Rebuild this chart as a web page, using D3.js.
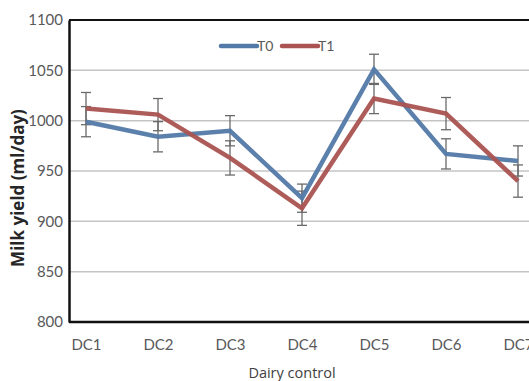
<!DOCTYPE html>
<html><head><meta charset="utf-8">
<script src="https://cdn.jsdelivr.net/npm/d3@7"></script>
<style>
html,body{margin:0;padding:0;background:#fff;}
svg{display:block;}
</style></head>
<body>
<script>
const categories = ["DC1","DC2","DC3","DC4","DC5","DC6","DC7"];
const seriesNames = ["T0","T1"];
const t0 = [999, 984, 990, 923, 1051, 967, 960];
const t1 = [1012, 1006, 963, 913, 1022, 1007, 940];
const t0err = [15, 15, 15, 14, 15, 15, 15];
const t1err = [16, 16, 17, 17, 15, 16, 16];
const yTicks = [800, 850, 900, 950, 1000, 1050, 1100];
const colors = ["#5279a8", "#aa5350"];

const W = 529, H = 381;
const svg = d3.select("body").append("svg").attr("width", W).attr("height", H);

const plotLeft = 69, plotTop = 20, plotBottom = 322, plotRight = 540;
const x = d3.scalePoint().domain(categories).range([86, 518]);
const y = d3.scaleLinear().domain([800, 1100]).range([plotBottom, plotTop]);

const tickFont = "Lato, 'Open Sans', sans-serif";

// gridlines
svg.append("g").selectAll("line").data(yTicks.filter(v => v > 800 && v < 1100)).join("line")
  .attr("x1", plotLeft).attr("x2", plotRight)
  .attr("y1", d => y(d)).attr("y2", d => y(d))
  .attr("stroke", "#c4c4c4").attr("stroke-width", 1.5);

// top border
svg.append("line").attr("x1", plotLeft).attr("x2", plotRight)
  .attr("y1", y(1100)).attr("y2", y(1100)).attr("stroke", "#111").attr("stroke-width", 2);

// y axis
const yAxis = d3.axisLeft(y).tickValues(yTicks).tickFormat(d3.format("d")).tickSize(0).tickPadding(6);
const gy = svg.append("g").attr("transform", `translate(${plotLeft},0)`).call(yAxis);
gy.select(".domain").attr("stroke", "#111").attr("stroke-width", 2.5);
gy.selectAll("text").attr("font-family", tickFont).attr("font-size", 15).attr("fill", "#595959");

// x axis
const xAxis = d3.axisBottom(x).tickSize(0).tickPadding(17);
const gx = svg.append("g").attr("transform", `translate(0,${plotBottom})`).call(xAxis);
gx.select(".domain").attr("d", `M${plotLeft},0H${plotRight}`).attr("stroke", "#111").attr("stroke-width", 2.5);
gx.selectAll("text").attr("font-family", tickFont).attr("font-size", 15).attr("fill", "#595959");

// lines
const datasets = [
  categories.map((c, i) => ({c, v: t0[i], e: t0err[i]})),
  categories.map((c, i) => ({c, v: t1[i], e: t1err[i]}))
];
const line = d3.line().x(d => x(d.c)).y(d => y(d.v));

// error bars
datasets.forEach((ds, si) => {
  const g = svg.append("g");
  ds.forEach(d => {
    const cx = x(d.c);
    g.append("line").attr("x1", cx).attr("x2", cx).attr("y1", y(d.v + d.e)).attr("y2", y(d.v - d.e))
      .attr("stroke", "#6a6a6a").attr("stroke-width", 1.3);
    [d.v + d.e, d.v - d.e].forEach(v => {
      g.append("line").attr("x1", cx - 5).attr("x2", cx + 5).attr("y1", y(v)).attr("y2", y(v))
        .attr("stroke", "#6a6a6a").attr("stroke-width", 1.3);
    });
  });
});

datasets.forEach((ds, si) => {
  svg.append("path").datum(ds).attr("d", line)
    .attr("fill", "none").attr("stroke", colors[si]).attr("stroke-width", 4.5)
    .attr("stroke-linejoin", "miter").attr("opacity", 0.95);
});

// legend
const legendX = [221, 282];
seriesNames.forEach((n, i) => {
  const lg = svg.append("g").attr("transform", `translate(${legendX[i]},46)`);
  lg.append("line").attr("x1", 0).attr("x2", 36).attr("y1", 0).attr("y2", 0)
    .attr("stroke", colors[i]).attr("stroke-width", 4.5).attr("stroke-linecap", "round");
  lg.append("text").attr("x", 36).attr("y", 5).text(n)
    .attr("font-family", tickFont).attr("font-size", 14).attr("fill", "#595959");
});

// axis titles
svg.append("text").attr("x", 292).attr("y", 378).attr("text-anchor", "middle")
  .attr("font-family", "'Open Sans', 'Noto Sans', sans-serif").attr("font-size", 14.5)
  .attr("fill", "#404040").text("Dairy control");
svg.append("text").attr("transform", "translate(24,188) rotate(-90)").attr("text-anchor", "middle")
  .attr("font-family", "'Open Sans', 'Noto Sans', sans-serif").attr("font-size", 17).attr("font-weight", "bold")
  .attr("fill", "#262626").text("Milk yield (ml/day)");
</script>
</body></html>
